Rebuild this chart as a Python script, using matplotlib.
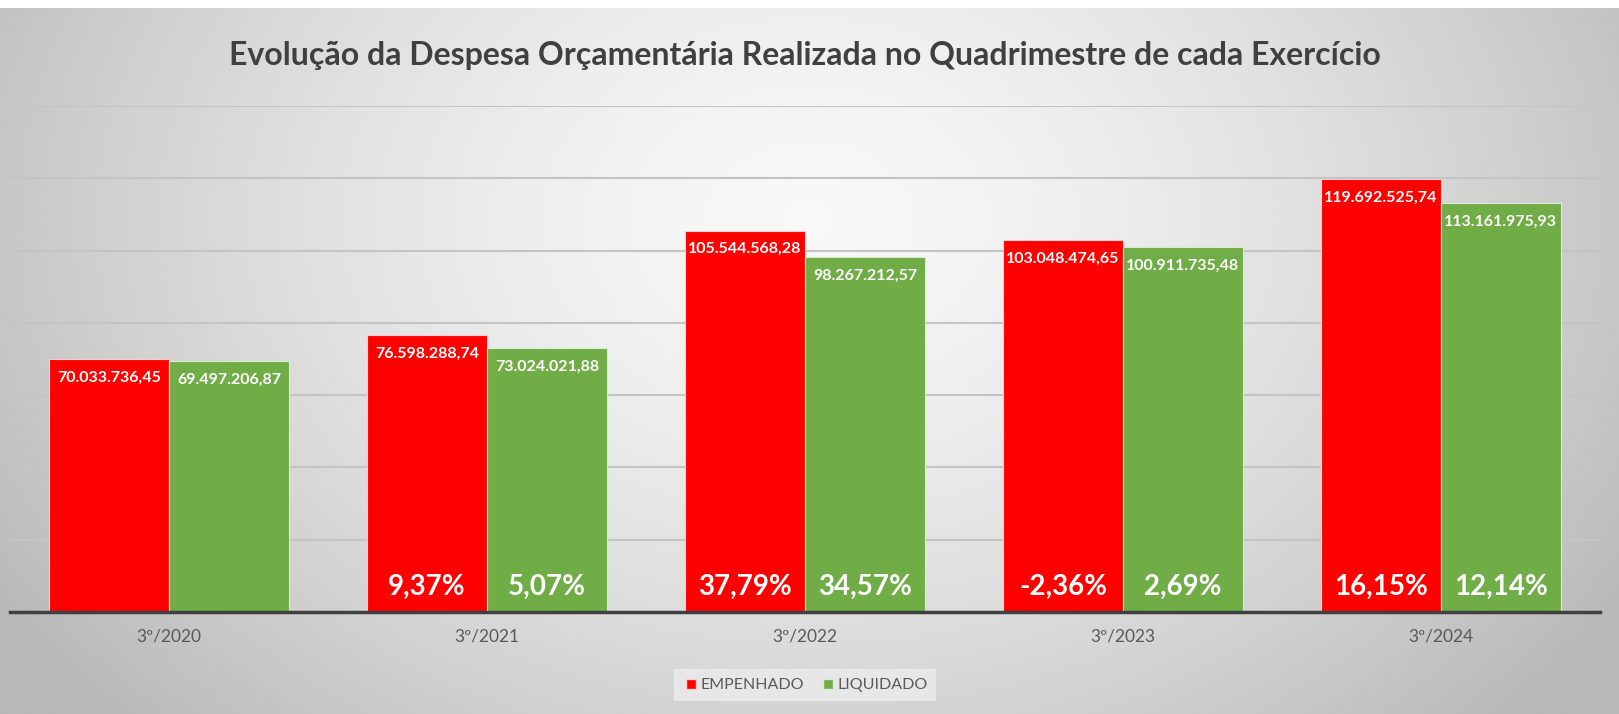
import numpy as np
import matplotlib
matplotlib.use("Agg")
import matplotlib.pyplot as plt
from matplotlib.lines import Line2D

categories = ['3º/2020', '3º/2021', '3º/2022', '3º/2023', '3º/2024']
empenhado = [70033736.45, 76598288.74, 105544568.28, 103048474.65, 119692525.74]
liquidado = [69497206.87, 73024021.88, 98267212.57, 100911735.48, 113161975.93]
pct_empenhado = ['', '9,37%', '37,79%', '-2,36%', '16,15%']
pct_liquidado = ['', '5,07%', '34,57%', '2,69%', '12,14%']
series_names = ['EMPENHADO', 'LIQUIDADO']
title = 'Evolução da Despesa Orçamentária Realizada no Quadrimestre de cada Exercício'

RED = '#ff0000'
GREEN = '#70ad47'
FONT = ['Lato', 'DejaVu Sans']
plt.rcParams['font.family'] = FONT


def br(v):
    s = f"{v:,.2f}"
    return s.replace(',', 'X').replace('.', ',').replace('X', '.')


W, H = 1619, 714
fig = plt.figure(figsize=(W / 100, H / 100), dpi=100)
fig.patch.set_facecolor('white')

# gradient background
bg = fig.add_axes([0, 0, 1, 1 - 8 / H])
bg.set_axis_off()
yy, xx = np.mgrid[0:1:300j, 0:1:600j]
d = np.sqrt(((xx - 0.5) / 0.55) ** 2 + ((yy - 0.3) / 0.95) ** 2)
val = np.clip(0.97 - 0.22 * d ** 1.5, 0.72, 1.0)
bg.imshow(val, cmap='gray', vmin=0, vmax=1, aspect='auto', extent=[0, 1, 1, 0],
          interpolation='bilinear')
bg.set_xlim(0, 1)
bg.set_ylim(1, 0)

ax = fig.add_axes([10 / W, 1 - 612 / H, 1590 / W, 506 / H])
ax.set_facecolor('none')
x = np.arange(len(categories))
bw = 0.377
ax.bar(x - bw / 2, empenhado, bw, color=RED, edgecolor='#f4d0d0', linewidth=0.8, zorder=3)
ax.bar(x + bw / 2, liquidado, bw, color=GREEN, edgecolor='#d8ecd0', linewidth=0.8, zorder=3)

ax.set_xlim(-0.5, len(categories) - 0.5)
ax.set_ylim(0, 140e6)
ax.set_yticks(np.arange(20e6, 140.1e6, 20e6))
ax.yaxis.grid(True, color='#c4c4c4', linewidth=1.5, zorder=0)
ax.tick_params(axis='y', left=False, labelleft=False)
ax.tick_params(axis='x', bottom=False, length=0, pad=12, labelsize=12.5, labelcolor='#595959')
ax.set_xticks(x)
ax.set_xticklabels(categories)
for s in ['top', 'right', 'left']:
    ax.spines[s].set_visible(False)
ax.spines['bottom'].set_color('#404040')
ax.spines['bottom'].set_linewidth(2.5)
ax.spines['bottom'].set_zorder(4)

for i in range(len(categories)):
    ax.annotate(br(empenhado[i]), (x[i] - bw / 2, empenhado[i]), xytext=(0, -13.5),
                textcoords='offset points', ha='center', va='center', color='white',
                fontsize=11.5, fontweight='bold', zorder=5)
    ax.annotate(br(liquidado[i]), (x[i] + bw / 2, liquidado[i]), xytext=(0, -13.5),
                textcoords='offset points', ha='center', va='center', color='white',
                fontsize=11.5, fontweight='bold', zorder=5)
    if pct_empenhado[i]:
        ax.annotate(pct_empenhado[i], (x[i] - bw / 2, 0), xytext=(0, 18),
                    textcoords='offset points', ha='center', va='center', color='white',
                    fontsize=20, fontweight='bold', zorder=5)
    if pct_liquidado[i]:
        ax.annotate(pct_liquidado[i], (x[i] + bw / 2, 0), xytext=(0, 18),
                    textcoords='offset points', ha='center', va='center', color='white',
                    fontsize=20, fontweight='bold', zorder=5)

fig.text(805 / W, 1 - 55 / H, title, ha='center', va='center', fontsize=23,
         fontweight='bold', color='#404040')

handles = [Line2D([], [], marker='s', linestyle='none', markersize=7.5, color=RED,
                  markeredgecolor='#f4d0d0'),
           Line2D([], [], marker='s', linestyle='none', markersize=7.5, color=GREEN,
                  markeredgecolor='#d8ecd0')]
leg = fig.legend(handles, series_names, loc='center', bbox_to_anchor=(805 / W, 1 - 685 / H),
                 ncol=2, frameon=True, fontsize=11.5, handletextpad=0.1, columnspacing=1.0,
                 handlelength=1.0, borderpad=0.55, fancybox=False)
leg.get_frame().set_facecolor('#ececec')
leg.get_frame().set_edgecolor('none')
for t in leg.get_texts():
    t.set_color('#595959')

fig.savefig('out.png', dpi=100)
